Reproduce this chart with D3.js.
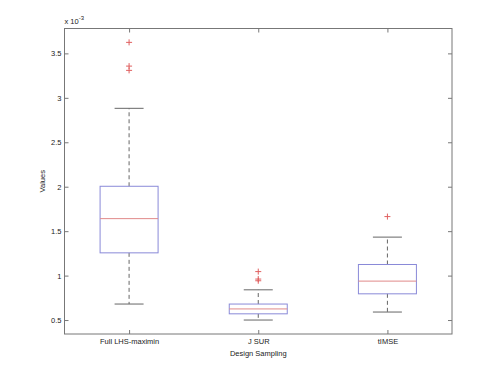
<!DOCTYPE html>
<html>
<head>
<meta charset="utf-8">
<script src="https://cdn.jsdelivr.net/npm/d3@7"></script>
<style>
  html, body { margin: 0; padding: 0; background: #fff; }
  svg text { font-family: "Liberation Sans", Arial, sans-serif; fill: #222; }
</style>
</head>
<body>
<div id="chart"></div>
<script>
// -----------------------------
// DATA (units of 1e-3)
// -----------------------------
const CATEGORIES = ["Full LHS-maximin", "J SUR", "tIMSE"];
const Q1 = [1.256, 0.57, 0.795];
const MEDIANS = [1.641, 0.625, 0.938];
const Q3 = [2.005, 0.68, 1.125];
const WHISK_LO = [0.68, 0.50, 0.59];
const WHISK_HI = [2.882, 0.84, 1.433];
const OUTLIERS = [[3.624, 3.357, 3.309], [1.045, 0.961, 0.942], [1.664]];
const Y_TICKS = [0.5, 1, 1.5, 2, 2.5, 3, 3.5];

// -----------------------------
// LAYOUT
// -----------------------------
const width = 500, height = 376;
const margin = { top: 28.5, right: 48, bottom: 42, left: 64.5 };
const innerW = width - margin.left - margin.right;
const innerH = height - margin.top - margin.bottom;

const svg = d3.select("#chart").append("svg")
  .attr("width", width)
  .attr("height", height);

const g = svg.append("g")
  .attr("transform", `translate(${margin.left},${margin.top})`);

const x = d3.scaleLinear().domain([0.5, 3.5]).range([0, innerW]);
const y = d3.scaleLinear().domain([0.343, 3.78]).range([innerH, 0]);

const axisColor = "#777";
const tickLen = 4;
const FONT = "Liberation Sans, Arial, sans-serif";

// Axes box
g.append("rect")
  .attr("width", innerW).attr("height", innerH)
  .attr("fill", "none").attr("stroke", axisColor).attr("stroke-width", 1);

// Y ticks (left labels + inside ticks on both sides)
const yAxis = g.append("g")
  .call(d3.axisLeft(y).tickValues(Y_TICKS).tickSize(-tickLen).tickPadding(3).tickFormat(d3.format("")));
yAxis.select(".domain").remove();
yAxis.selectAll("line").attr("stroke", axisColor);
yAxis.selectAll("text").attr("font-size", 7.5).style("font-family", FONT);

const yRight = g.append("g")
  .attr("transform", `translate(${innerW},0)`)
  .call(d3.axisRight(y).tickValues(Y_TICKS).tickSize(-tickLen).tickFormat(""));
yRight.select(".domain").remove();
yRight.selectAll("line").attr("stroke", axisColor);

// X ticks (bottom labels + top ticks)
const xAxis = g.append("g")
  .attr("transform", `translate(0,${innerH})`)
  .call(d3.axisBottom(x).tickValues([1, 2, 3]).tickSize(-tickLen).tickPadding(5)
    .tickFormat(d => CATEGORIES[d - 1]));
xAxis.select(".domain").remove();
xAxis.selectAll("line").attr("stroke", axisColor);
xAxis.selectAll("text").attr("font-size", 7.5).style("font-family", FONT);

const xTop = g.append("g")
  .call(d3.axisTop(x).tickValues([1, 2, 3]).tickSize(-tickLen).tickFormat(""));
xTop.select(".domain").remove();
xTop.selectAll("line").attr("stroke", axisColor);

// Exponent label
const expo = svg.append("text")
  .attr("x", margin.left).attr("y", margin.top - 5)
  .attr("font-size", 7.5);
expo.append("tspan").text("x 10");
expo.append("tspan").attr("dy", -4).attr("font-size", 6).text("-3");

// Axis labels
svg.append("text")
  .attr("x", margin.left + innerW / 2).attr("y", 356)
  .attr("text-anchor", "middle").attr("font-size", 7.5)
  .text("Design Sampling");

svg.append("text")
  .attr("transform", `translate(45,${margin.top + innerH / 2}) rotate(-90)`)
  .attr("text-anchor", "middle").attr("font-size", 7.5)
  .text("Values");

// -----------------------------
// BOXES
// -----------------------------
const boxW = 58;
const capW = 29;

CATEGORIES.forEach((c, i) => {
  const cx = x(i + 1);
  const bg = g.append("g");

  // whiskers (dashed)
  bg.append("line")
    .attr("x1", cx).attr("x2", cx)
    .attr("y1", y(Q3[i])).attr("y2", y(WHISK_HI[i]))
    .attr("stroke", "#666").attr("stroke-dasharray", "4,3");
  bg.append("line")
    .attr("x1", cx).attr("x2", cx)
    .attr("y1", y(Q1[i])).attr("y2", y(WHISK_LO[i]))
    .attr("stroke", "#666").attr("stroke-dasharray", "4,3");

  // caps
  [WHISK_HI[i], WHISK_LO[i]].forEach(v => {
    bg.append("line")
      .attr("x1", cx - capW / 2).attr("x2", cx + capW / 2)
      .attr("y1", y(v)).attr("y2", y(v))
      .attr("stroke", "#666");
  });

  // box
  bg.append("rect")
    .attr("x", cx - boxW / 2).attr("width", boxW)
    .attr("y", y(Q3[i])).attr("height", y(Q1[i]) - y(Q3[i]))
    .attr("fill", "none").attr("stroke", "#8a8ad8").attr("stroke-width", 1);

  // median
  bg.append("line")
    .attr("x1", cx - boxW / 2).attr("x2", cx + boxW / 2)
    .attr("y1", y(MEDIANS[i])).attr("y2", y(MEDIANS[i]))
    .attr("stroke", "#e08a8a");

  // outliers
  OUTLIERS[i].forEach(v => {
    const py = y(v);
    bg.append("path")
      .attr("d", `M${cx - 3},${py}H${cx + 3}M${cx},${py - 3}V${py + 3}`)
      .attr("stroke", "#e06060").attr("fill", "none");
  });
});
</script>
</body>
</html>
